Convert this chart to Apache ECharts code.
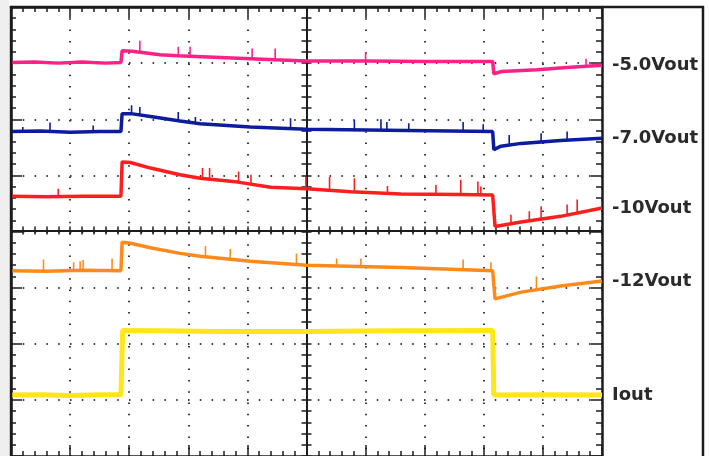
<!DOCTYPE html>
<html>
<head>
<meta charset="utf-8">
<script src="https://cdn.jsdelivr.net/npm/echarts@6/dist/echarts.min.js"></script>
<style>
  html, body { margin: 0; padding: 0; background: #ffffff; }
  #chart { width: 709px; height: 456px; }
</style>
</head>
<body>
<div id="chart"></div>
<script>
// time in divisions (0..10), level in divisions from bottom (0..8)
const traceLabels = ['-5.0Vout', '-7.0Vout', '-10Vout', '-12Vout', 'Iout'];
const traceColors = ['#ff2088', '#0c1c9c', '#ff1e1e', '#ff8a1c', '#ffe61a'];

const vout5 = [
  [0,7.01],[0.4,7.02],[0.8,7.00],[1.2,7.02],[1.6,7.00],[1.86,7.01],
  [1.88,7.22],[2.05,7.21],[2.52,7.15],[2.82,7.13],[3.54,7.10],[4.46,7.06],[5.0,7.04],[6.0,7.04],[7.0,7.03],[8.15,7.03],
  [8.17,6.81],[8.3,6.85],[8.9,6.88],[9.4,6.92],[10,6.96]
];
const vout5Spikes = [
  [2.18,7.19,7.40],[2.83,7.13,7.29],[3.03,7.12,7.29],[4.08,7.08,7.26],[4.47,7.06,7.26],[6.0,7.04,7.19],[9.73,6.94,7.08]
];
const vout7 = [
  [0,5.78],[0.5,5.79],[1.0,5.77],[1.5,5.78],[1.86,5.78],
  [1.88,6.10],[2.03,6.10],[2.36,6.05],[2.86,5.97],[3.2,5.92],[4.05,5.86],[5.0,5.82],[6.7,5.80],[8.15,5.78],
  [8.17,5.46],[8.29,5.52],[8.63,5.57],[9.3,5.62],[10,5.66]
];
const vout7Spikes = [
  [0.2,5.78,5.86],[0.66,5.78,5.94],[1.39,5.78,5.89],[2.04,6.10,6.25],[2.18,6.08,6.22],[2.83,5.99,6.13],[3.12,5.94,6.04],
  [4.73,5.83,6.02],[5.81,5.81,5.98],[6.26,5.81,6.00],[6.36,5.81,5.95],[6.73,5.80,5.93],[7.65,5.79,5.95],[7.99,5.78,5.91],
  [8.43,5.54,5.72],[8.97,5.60,5.75],[9.41,5.63,5.78]
];
const vout10 = [
  [0,4.63],[0.6,4.62],[1.2,4.63],[1.86,4.63],
  [1.88,5.24],[2.02,5.23],[2.36,5.13],[2.86,5.01],[3.20,4.95],[3.84,4.88],[4.39,4.79],[5.0,4.76],[5.75,4.71],[6.6,4.67],[7.6,4.66],[8.15,4.65],
  [8.19,4.09],[8.22,4.10],[8.63,4.17],[9.3,4.27],[10,4.42]
];
const vout10Spikes = [
  [0.8,4.63,4.76],[3.24,4.95,5.13],[3.36,4.93,5.13],[3.85,4.88,5.07],[4.06,4.83,5.01],[4.99,4.76,4.97],[5.39,4.74,4.97],
  [5.81,4.71,4.95],[6.37,4.69,4.81],[7.19,4.67,4.83],[7.61,4.66,4.92],[7.90,4.66,4.89],[7.95,4.66,4.80],
  [8.46,4.14,4.30],[8.77,4.19,4.36],[8.97,4.22,4.45],[9.41,4.29,4.48],[9.58,4.32,4.57]
];
const vout12 = [
  [0,3.30],[0.6,3.29],[1.2,3.31],[1.86,3.30],
  [1.88,3.81],[2.02,3.79],[2.36,3.71],[2.86,3.61],[3.2,3.56],[4.05,3.47],[5.0,3.40],[6.6,3.36],[8.15,3.30],
  [8.19,2.80],[8.22,2.80],[8.63,2.92],[9.3,3.03],[10,3.12]
];
const vout12Spikes = [
  [0.55,3.30,3.50],[1.06,3.30,3.45],[1.17,3.30,3.47],[1.22,3.30,3.49],[1.71,3.30,3.52],[3.29,3.55,3.74],[3.71,3.51,3.69],
  [4.83,3.42,3.61],[5.51,3.39,3.52],[5.92,3.38,3.52],[7.65,3.32,3.50],[8.12,3.30,3.45],[8.89,2.97,3.20]
];
const iout = [
  [0,1.085],[0.5,1.09],[1.0,1.08],[1.5,1.09],[1.86,1.09],
  [1.89,2.235],[2.5,2.23],[3.5,2.22],[5.0,2.22],[6.5,2.23],[8.15,2.235],
  [8.17,1.085],[9.0,1.09],[10,1.085]
];
const iousSpikes = [];
const traces = [vout5, vout7, vout10, vout12, iout];
const spikes = [vout5Spikes, vout7Spikes, vout10Spikes, vout12Spikes, iousSpikes];

const FRAME = '#1c1c1c';
const G = { left: 11, top: 7, width: 591, height: 451 };

function axisBase(extra) {
  return Object.assign({
    type: 'value', min: 0, interval: 1,
    axisLabel: { show: false },
    splitLine: { show: false },
    axisLine: { show: true, onZero: false, lineStyle: { color: FRAME, width: 2.5 } },
    axisTick: { show: true, inside: true, length: 11, lineStyle: { color: FRAME, width: 1.5 } },
    minorTick: { show: true, splitNumber: 5, length: 5, lineStyle: { color: FRAME, width: 1.5 } }
  }, extra);
}
function centerAxis(extra, inside, len) {
  return axisBase(Object.assign({
    axisLine: { show: true, onZero: false, lineStyle: { color: FRAME, width: 2 } },
    axisTick: { show: true, inside: inside, length: len, lineStyle: { color: FRAME, width: 1.5 } },
    minorTick: { show: true, splitNumber: 5, length: len, lineStyle: { color: FRAME, width: 1.5 } }
  }, extra));
}

const xAxes = [
  axisBase({ max: 10, position: 'top',
    splitLine: { show: true, lineStyle: { color: '#3a3a3a', width: 2, type: [1.5, 9.8] } } }),
  axisBase({ max: 10, position: 'bottom' }),
  centerAxis({ max: 10, position: 'bottom', offset: -G.height / 2 }, true, 4),
  centerAxis({ max: 10, position: 'bottom', offset: -G.height / 2 }, false, 4)
];
const yAxes = [
  axisBase({ max: 8, position: 'left',
    splitLine: { show: true, lineStyle: { color: '#3a3a3a', width: 2, type: [1.5, 10.3] } } }),
  axisBase({ max: 8, position: 'right', minorTick: { show: true, splitNumber: 5, length: 6, lineStyle: { color: FRAME, width: 1.5 } } }),
  centerAxis({ max: 8, position: 'left', offset: -G.width / 2 }, true, 5),
  centerAxis({ max: 8, position: 'left', offset: -G.width / 2 }, false, 5)
];

const series = [];
traces.forEach((d, i) => {
  series.push({
    type: 'line',
    name: traceLabels[i],
    data: d,
    xAxisIndex: 0, yAxisIndex: 0,
    showSymbol: false, symbol: 'none',
    lineStyle: { color: traceColors[i], width: i === 4 ? 5 : 3.5 },
    itemStyle: { color: traceColors[i] },
    z: 5,
    endLabel: {
      show: true, formatter: traceLabels[i], distance: 10,
      fontFamily: 'DejaVu Sans', fontWeight: 'bold', fontSize: 18, color: '#2a2a2a',
      align: 'left', verticalAlign: 'middle'
    }
  });
  if (spikes[i].length) {
    const segs = [];
    spikes[i].forEach(s => { segs.push([s[0], s[1]], [s[0], s[2]], [s[0], '-']); });
    series.push({
      type: 'line',
      name: traceLabels[i] + ' spikes',
      data: segs,
      xAxisIndex: 0, yAxisIndex: 0,
      showSymbol: false, symbol: 'none', connectNulls: false,
      lineStyle: { color: traceColors[i], width: 1.6 },
      z: 5
    });
  }
});

const chart = echarts.init(document.getElementById('chart'), null, { renderer: 'canvas' });
chart.setOption({
  animation: false,
  backgroundColor: '#ffffff',
  grid: G,
  xAxis: xAxes,
  yAxis: yAxes,
  series: series,
  graphic: [
    { type: 'rect', z: -10, shape: { x: 0, y: 0, width: 9, height: 456 }, style: { fill: '#efefef' } },
    { type: 'rect', z: 100, shape: { x: G.left, y: G.top, width: 692, height: 470 },
      style: { fill: 'none', stroke: FRAME, lineWidth: 2.5 } }
  ]
});
</script>
</body>
</html>
